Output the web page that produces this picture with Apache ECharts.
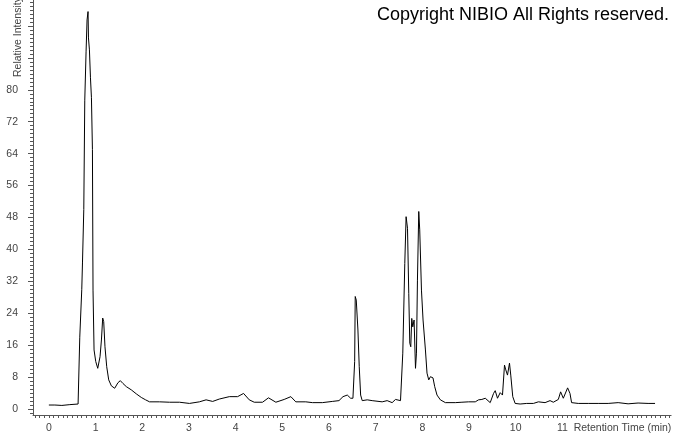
<!DOCTYPE html>
<html>
<head>
<meta charset="utf-8">
<script src="https://cdn.jsdelivr.net/npm/echarts@6/dist/echarts.min.js"></script>
<style>
html,body{margin:0;padding:0;background:#fff;}
#chart{width:674px;height:434px;}
</style>
</head>
<body>
<div id="chart"></div>
<script>
// Retention time (min)
var retentionTime = [
  0.00, 0.128, 0.278, 0.449, 0.626, 0.662, 0.705, 0.720, 0.748, 0.769,
  0.797, 0.818, 0.839, 0.848, 0.869, 0.891, 0.912, 0.933, 0.946, 0.968,
  1.004, 1.047, 1.074, 1.096, 1.126, 1.153, 1.175, 1.202, 1.239, 1.282,
  1.339, 1.410, 1.480, 1.531, 1.587, 1.660, 1.766, 1.873, 1.980, 2.072,
  2.157, 2.371, 2.584, 2.798, 3.011, 3.225, 3.368, 3.509, 3.652, 3.866,
  4.043, 4.171, 4.293, 4.400, 4.577, 4.705, 4.863, 5.041, 5.184, 5.290,
  5.504, 5.645, 5.859, 6.072, 6.215, 6.301, 6.393, 6.465, 6.514, 6.551,
  6.563, 6.585, 6.621, 6.649, 6.679, 6.713, 6.820, 6.926, 7.140, 7.247,
  7.354, 7.426, 7.533, 7.582, 7.625, 7.653, 7.683, 7.710, 7.732, 7.753,
  7.774, 7.796, 7.824, 7.854, 7.875, 7.896, 7.924, 7.945, 7.982, 8.016,
  8.067, 8.101, 8.138, 8.174, 8.208, 8.229, 8.266, 8.315, 8.387, 8.494,
  8.708, 8.849, 8.992, 9.135, 9.205, 9.276, 9.349, 9.455, 9.526, 9.562,
  9.611, 9.669, 9.718, 9.761, 9.789, 9.825, 9.868, 9.895, 9.938, 9.989,
  10.096, 10.237, 10.380, 10.487, 10.630, 10.737, 10.807, 10.914, 10.963, 11.021,
  11.113, 11.164, 11.198, 11.341, 11.555, 11.768, 11.982, 12.196, 12.409, 12.623,
  12.837, 12.986
];
// Relative intensity
var relativeIntensity = [
  1.0, 1.0, 0.9, 1.1, 1.25, 18, 30, 36.6, 50, 77.4,
  89.5, 97.5, 99.6, 93, 90, 83, 78, 65, 29.8, 14.8,
  11.9, 10.2, 9.8, 13.1, 17.3, 22.8, 21.9, 15.6, 10.6, 7.3,
  5.8, 5.2, 6.6, 7.1, 6.4, 5.6, 4.8, 3.8, 2.9, 2.3,
  1.8, 1.8, 1.7, 1.7, 1.4, 1.8, 2.3, 1.9, 2.5, 3.1,
  3.1, 3.9, 2.3, 1.7, 1.7, 2.8, 1.7, 2.4, 3.1, 1.8,
  1.8, 1.6, 1.6, 1.9, 2.1, 3.1, 3.5, 2.7, 2.7, 11.9,
  28.2, 27.3, 19.8, 10.6, 3.5, 2.1, 2.3, 2.1, 1.8, 2.1,
  1.6, 2.4, 2.1, 14, 36.5, 48.2, 45.3, 29, 16.5, 15.6,
  22.7, 20.6, 22.3, 10.2, 14, 32.3, 49.5, 44.9, 29.8, 22.3,
  14.8, 9, 7.3, 8.1, 8.5, 7.8, 5.6, 3.5, 2.3, 1.6,
  1.6, 1.7, 1.8, 1.8, 2.3, 2.4, 2.7, 1.6, 3.9, 4.6,
  2.7, 4.1, 3.5, 11, 9.8, 8.5, 11.5, 8.5, 3.1, 1.4,
  1.25, 1.4, 1.4, 1.8, 1.6, 2.1, 1.7, 2.4, 4.3, 2.7,
  5.3, 3.9, 1.6, 1.4, 1.4, 1.4, 1.4, 1.6, 1.3, 1.5,
  1.4, 1.4
];
// Tick labels
var xTickLabels = [0, 1, 2, 3, 4, 5, 6, 7, 8, 9, 10, 11];
var yTickLabels = [0, 8, 16, 24, 32, 40, 48, 56, 64, 72, 80];
var yMajorTicks = [0, 8, 16, 24, 32, 40, 48, 56, 64, 72, 80, 88, 96];

var xMinorTicks = [];
for (var i = -3; i <= 133; i++) xMinorTicks.push(i / 10);
var yMinorTicks = [];
for (var j = -1; j <= 102; j++) yMinorTicks.push(j);

var seriesData = retentionTime.map(function (t, k) { return [t, relativeIntensity[k]]; });

var FONT = 'Arial, "Liberation Sans", sans-serif';
var AXIS_COLOR = '#555';
var LABEL_COLOR = '#444';

var chart = echarts.init(document.getElementById('chart'), null, { renderer: 'canvas' });
chart.setOption({
  animation: false,
  backgroundColor: '#fff',
  title: {
    text: 'Copyright NIBIO All Rights reserved.',
    right: 0,
    top: 1,
    textStyle: { fontFamily: FONT, fontSize: 18, fontWeight: 'normal', color: '#000' }
  },
  grid: { left: 33, right: 1, top: 0, bottom: 19 },
  xAxis: {
    type: 'value',
    min: -0.34,
    max: 13.33,
    position: 'bottom',
    name: 'Retention Time (min)',
    nameLocation: 'end',
    nameGap: -1,
    nameTextStyle: { fontFamily: FONT, fontSize: 10.5, color: LABEL_COLOR, align: 'right', verticalAlign: 'top', padding: [8, 0, 0, 0] },
    axisLine: { show: true, onZero: false, lineStyle: { color: AXIS_COLOR, width: 1 } },
    axisTick: { show: true, inside: false, length: 3, customValues: xMinorTicks, lineStyle: { color: AXIS_COLOR } },
    axisLabel: { show: true, customValues: xTickLabels, margin: 8, fontFamily: FONT, fontSize: 10.5, color: LABEL_COLOR },
    splitLine: { show: false }
  },
  yAxis: [{
    type: 'value',
    min: -1.5,
    max: 102.5,
    position: 'left',
    axisLine: { show: true, onZero: false, lineStyle: { color: AXIS_COLOR, width: 1 } },
    axisTick: { show: true, inside: false, length: 5, customValues: yMajorTicks, lineStyle: { color: AXIS_COLOR } },
    axisLabel: { show: true, customValues: yTickLabels, margin: 15, fontFamily: FONT, fontSize: 10.5, color: LABEL_COLOR },
    splitLine: { show: false }
  }, {
    type: 'value',
    min: -1.5,
    max: 102.5,
    position: 'left',
    offset: 0,
    axisLine: { show: false, onZero: false },
    axisTick: { show: true, inside: false, length: 3, customValues: yMinorTicks, lineStyle: { color: AXIS_COLOR } },
    axisLabel: { show: false },
    splitLine: { show: false }
  }],
  graphic: [{
    type: 'text',
    x: 18,
    y: 77,
    rotation: Math.PI / 2,
    style: {
      text: 'Relative Intensity',
      fontFamily: FONT,
      fontSize: 10.5,
      fill: LABEL_COLOR,
      textAlign: 'left',
      textVerticalAlign: 'middle'
    }
  }],
  series: [{
    type: 'line',
    xAxisIndex: 0,
    yAxisIndex: 0,
    data: seriesData,
    showSymbol: false,
    symbol: 'none',
    lineStyle: { color: '#000', width: 1 },
    silent: true
  }]
});
</script>
</body>
</html>
